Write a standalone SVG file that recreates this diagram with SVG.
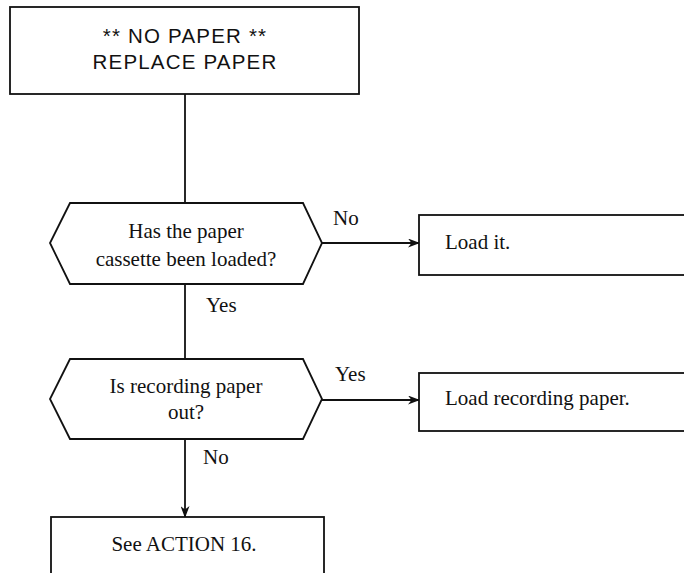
<svg xmlns="http://www.w3.org/2000/svg" width="684" height="573" viewBox="0 0 684 573">
  <defs>
    <style>
      .shape { fill: #fff; stroke: #111; stroke-width: 1.8; }
      .link { fill: none; stroke: #111; stroke-width: 1.8; }
      .serif { font-family: "Liberation Serif", "Times New Roman", serif; font-size: 21px; fill: #111; }
      .sans { font-family: "Liberation Sans", Arial, sans-serif; font-size: 20.5px; letter-spacing: 1.2px; fill: #111; }
    </style>
    <marker id="arrow" viewBox="0 0 12 9" refX="11" refY="4.5" markerWidth="12" markerHeight="9" markerUnits="userSpaceOnUse" orient="auto">
      <path d="M0,0 L12,4.5 L0,9 L3.5,4.5 z" fill="#111"/>
    </marker>
  </defs>

  <rect width="684" height="573" fill="#fff"/>

  <!-- connectors -->
  <g id="connectors">
    <line class="link" x1="185" y1="94" x2="185" y2="203"/>
    <line class="link" x1="185" y1="284" x2="185" y2="359"/>
    <line class="link" x1="185" y1="439" x2="185" y2="517" marker-end="url(#arrow)"/>
    <line class="link" x1="322" y1="243" x2="419" y2="243" marker-end="url(#arrow)"/>
    <line class="link" x1="322" y1="400" x2="419" y2="400" marker-end="url(#arrow)"/>
    <text class="serif" x="333" y="225">No</text>
    <text class="serif" x="206" y="312">Yes</text>
    <text class="serif" x="335" y="381">Yes</text>
    <text class="serif" x="203" y="464">No</text>
  </g>

  <!-- start message -->
  <g id="no-paper">
    <rect class="shape" x="10" y="7" width="349" height="87"/>
    <text class="sans" x="185" y="42.5" text-anchor="middle">** NO PAPER **</text>
    <text class="sans" x="185" y="69" text-anchor="middle">REPLACE PAPER</text>
  </g>

  <!-- decision: cassette loaded -->
  <g id="cassette-check">
    <polygon class="shape" points="70,203 303,203 322,243 303,284 70,284 50,243"/>
    <text class="serif" x="186" y="238" text-anchor="middle">Has the paper</text>
    <text class="serif" x="186" y="265.5" text-anchor="middle">cassette been loaded?</text>
  </g>

  <g id="load-it">
    <rect class="shape" x="419" y="215" width="280" height="60"/>
    <text class="serif" x="445" y="249">Load it.</text>
  </g>

  <!-- decision: recording paper out -->
  <g id="paper-out-check">
    <polygon class="shape" points="70,359 303,359 322,399 303,439 70,439 50,399"/>
    <text class="serif" x="186" y="393" text-anchor="middle">Is recording paper</text>
    <text class="serif" x="186" y="419" text-anchor="middle">out?</text>
  </g>

  <g id="load-recording-paper">
    <rect class="shape" x="419" y="373" width="280" height="58"/>
    <text class="serif" x="445" y="405">Load recording paper.</text>
  </g>

  <g id="see-action-16">
    <rect class="shape" x="51" y="517" width="273" height="70"/>
    <text class="serif" x="184" y="550.5" text-anchor="middle">See ACTION 16.</text>
  </g>
</svg>
